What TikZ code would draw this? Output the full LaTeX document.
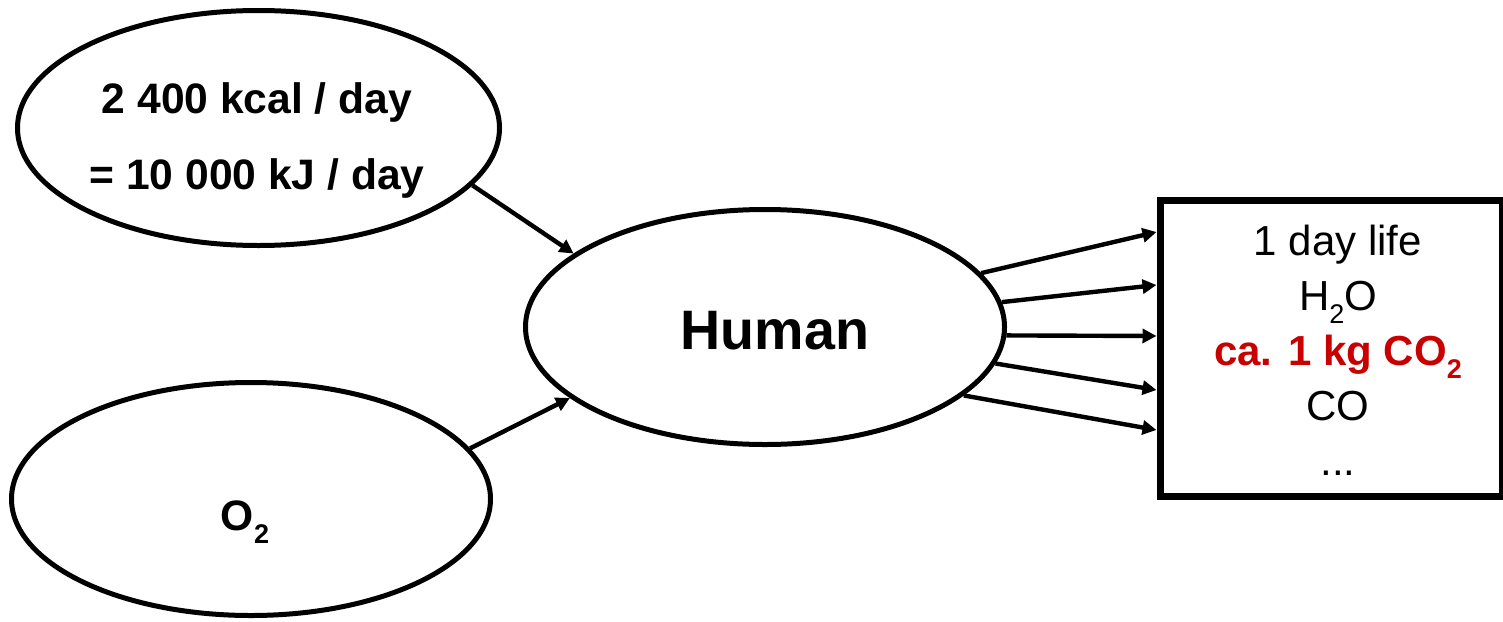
\documentclass[tikz,border=0pt]{standalone}
\usepackage{fontspec}
\setmainfont{Liberation Sans}
\usetikzlibrary{shapes.geometric,arrows.meta}
\definecolor{hired}{RGB}{200,0,0}
\newcommand{\mysubtwo}{\raisebox{-0.32em}{\fontsize{13.5}{13.5}\selectfont 2}}
\tikzset{
  oval/.style={ellipse,draw,line width=2.5pt,inner sep=0pt},
  flow/.style={line width=2.2pt,-{Triangle[length=7pt,width=7pt]}},
  outbox/.style={rectangle,draw,line width=3.5pt,inner sep=0pt},
}
\begin{document}
\begin{tikzpicture}[x=0.5pt,y=-0.5pt]
\useasboundingbox (0,0) rectangle (1503,621);
% nodes
\node[oval,minimum width=241pt,minimum height=117.5pt] (food) at (258.5,128) {};
\node[align=center,font=\fontsize{21.3}{38}\bfseries\selectfont] (foodtext) at (257,140)
  {2 400 kcal / day\\= 10 000 kJ / day};
\node[oval,minimum width=239.5pt,minimum height=116.5pt] (oxy) at (251,499) {};
\node[font=\fontsize{21.3}{25}\bfseries\selectfont] (oxytext) at (245,522) {O\mysubtwo};
\node[oval,minimum width=239.5pt,minimum height=117.5pt] (human) at (765,327) {};
\node[font=\fontsize{27.8}{32}\bfseries\selectfont] (humantext) at (775,331) {Human};
\node[outbox,minimum width=171pt,minimum height=148pt] (box) at (1331,348) {};
\node[align=center,font=\fontsize{21}{27.5}\selectfont] (boxtext) at (1338,350)
  {1 day life\\H\mysubtwo O\\{\color{hired}\bfseries ca. 1 kg CO\mysubtwo}\\CO\\...};
% arrow end heights
\coordinate (y1) at (0,232);
\coordinate (y2) at (0,285);
\coordinate (y3) at (0,336);
\coordinate (y4) at (0,390);
\coordinate (y5) at (0,430);
% connectors
\draw[flow] (food.-15.2) -- (human.159.2);
\draw[flow] (oxy.13.9) -- (human.-160.2);
\draw[flow] (human.14.7) -- (box.west |- y1);
\draw[flow] (human.6.5) -- (box.west |- y2);
\draw[flow] (human.-2.4) -- (box.west |- y3);
\draw[flow] (human.-9.6) -- (box.west |- y4);
\draw[flow] (human.-19) -- (box.west |- y5);
\end{tikzpicture}
\end{document}
